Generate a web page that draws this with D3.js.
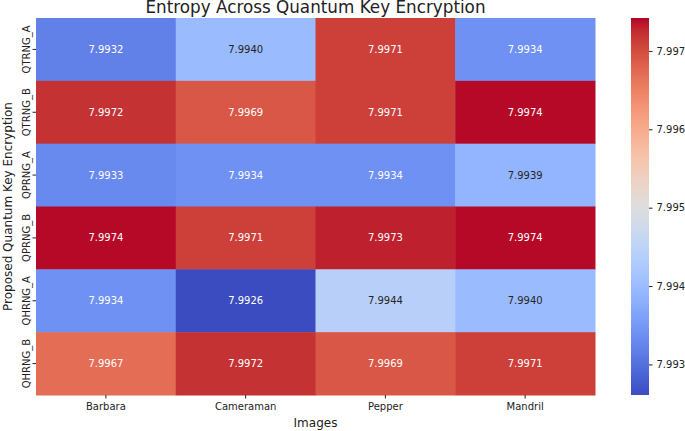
<!DOCTYPE html>
<html>
<head>
<meta charset="utf-8">
<script src="https://cdn.jsdelivr.net/npm/d3@7"></script>
<style>
  body { margin: 0; background: #fff; }
  text { font-family: "DejaVu Sans", sans-serif; }
</style>
</head>
<body>
<div id="chart"></div>
<script>
// data
var images = ["Barbara", "Cameraman", "Pepper", "Mandril"];
var methods = ["QTRNG_A", "QTRNG_B", "QPRNG_A", "QPRNG_B", "QHRNG_A", "QHRNG_B"];
var QTRNG_A = [7.9932, 7.9940, 7.9971, 7.9934];
var QTRNG_B = [7.9972, 7.9969, 7.9971, 7.9974];
var QPRNG_A = [7.9933, 7.9934, 7.9934, 7.9939];
var QPRNG_B = [7.9974, 7.9971, 7.9973, 7.9974];
var QHRNG_A = [7.9934, 7.9926, 7.9944, 7.9940];
var QHRNG_B = [7.9967, 7.9972, 7.9969, 7.9971];
var rowsData = [QTRNG_A, QTRNG_B, QPRNG_A, QPRNG_B, QHRNG_A, QHRNG_B];
var colorTicks = [7.993, 7.994, 7.995, 7.996, 7.997];
var colorRange = [7.99261, 7.99742];

// matplotlib coolwarm stops
var coolwarm = [
  [59,76,192],[68,90,204],[77,104,215],[87,117,225],[98,130,234],[108,142,241],
  [119,154,247],[130,165,251],[141,176,254],[152,185,255],[163,194,255],[174,201,253],
  [184,208,249],[194,213,244],[204,217,238],[213,219,230],[221,221,221],[229,216,209],
  [236,211,197],[241,204,185],[245,196,173],[247,187,160],[247,177,148],[247,166,135],
  [244,154,123],[241,141,111],[236,127,99],[229,112,88],[222,96,77],[213,80,66],
  [203,62,56],[192,40,47],[180,4,38]
].map(c => d3.rgb(c[0], c[1], c[2]).toString());

var cells = [];
rowsData.forEach(function(vals, r) {
  vals.forEach(function(v, c) {
    cells.push({ method: methods[r], image: images[c], value: v });
  });
});

var width = 685, height = 431;
var mLeft = 36, mTop = 18, mRight = 595, mBottom = 395;

var svg = d3.select("#chart").append("svg")
  .attr("width", width)
  .attr("height", height);

var x = d3.scaleBand().domain(images).range([mLeft, mRight]);
var y = d3.scaleBand().domain(methods).range([mTop, mBottom]);

var norm = d3.scaleLinear().domain(colorRange).range([0, 1]).clamp(true);
var cmap = d3.piecewise(d3.interpolateRgb, coolwarm);
var color = v => cmap(norm(v));

// seaborn picks text colour from relative luminance
function luminance(c) {
  var rgb = d3.rgb(c);
  var lin = [rgb.r, rgb.g, rgb.b].map(function(u) {
    u /= 255;
    return u <= 0.03928 ? u / 12.92 : Math.pow((u + 0.055) / 1.055, 2.4);
  });
  return 0.2126 * lin[0] + 0.7152 * lin[1] + 0.0722 * lin[2];
}

// cells
svg.selectAll("rect.cell")
  .data(cells)
  .enter().append("rect")
  .attr("class", "cell")
  .attr("x", d => x(d.image))
  .attr("y", d => y(d.method))
  .attr("width", x.bandwidth() + 0.5)
  .attr("height", y.bandwidth() + 0.5)
  .attr("fill", d => color(d.value));

svg.selectAll("text.annot")
  .data(cells)
  .enter().append("text")
  .attr("class", "annot")
  .attr("x", d => x(d.image) + x.bandwidth() / 2)
  .attr("y", d => y(d.method) + y.bandwidth() / 2)
  .attr("dy", "0.35em")
  .attr("text-anchor", "middle")
  .style("font-size", "10px")
  .attr("fill", d => luminance(color(d.value)) > 0.408 ? "#262626" : "#ffffff")
  .text(d => d.value.toFixed(4));

// x axis
var xAxis = svg.append("g")
  .attr("transform", "translate(0," + mBottom + ")")
  .call(d3.axisBottom(x).tickSize(3.5).tickPadding(4));
xAxis.select(".domain").remove();
xAxis.selectAll("text").style("font-size", "10px").style("font-family", "DejaVu Sans").attr("fill", "#222");
xAxis.selectAll("line").attr("stroke", "#222");

// y axis
var yAxis = svg.append("g")
  .attr("transform", "translate(" + mLeft + ",0)")
  .call(d3.axisLeft(y).tickSize(3.5));
yAxis.select(".domain").remove();
yAxis.selectAll("line").attr("stroke", "#222");
yAxis.selectAll("text")
  .style("font-size", "10px")
  .style("font-family", "DejaVu Sans")
  .attr("fill", "#222")
  .attr("x", null).attr("dy", null)
  .attr("text-anchor", "middle")
  .attr("transform", "translate(-6,0) rotate(-90)");

// title and axis labels
svg.append("text")
  .attr("x", (mLeft + mRight) / 2)
  .attr("y", 13)
  .attr("text-anchor", "middle")
  .style("font-size", "16.8px")
  .attr("fill", "#222")
  .text("Entropy Across Quantum Key Encryption");

svg.append("text")
  .attr("x", (mLeft + mRight) / 2)
  .attr("y", 426.5)
  .attr("text-anchor", "middle")
  .style("font-size", "12px")
  .attr("fill", "#222")
  .text("Images");

svg.append("text")
  .attr("transform", "rotate(-90)")
  .attr("x", -(mTop + mBottom) / 2)
  .attr("y", 12)
  .attr("text-anchor", "middle")
  .style("font-size", "12px")
  .attr("fill", "#222")
  .text("Proposed Quantum Key Encryption");

// colorbar
var cbLeft = 631, cbWidth = 18;
var cbScale = d3.scaleLinear().domain(colorRange).range([mBottom, mTop]);
var defs = svg.append("defs");
var grad = defs.append("linearGradient")
  .attr("id", "cbgrad")
  .attr("x1", 0).attr("y1", 1).attr("x2", 0).attr("y2", 0);
grad.selectAll("stop")
  .data(d3.range(0, 1.0001, 1 / 64))
  .enter().append("stop")
  .attr("offset", d => d)
  .attr("stop-color", d => cmap(d));

svg.append("rect")
  .attr("x", cbLeft)
  .attr("y", mTop)
  .attr("width", cbWidth)
  .attr("height", mBottom - mTop)
  .attr("fill", "url(#cbgrad)");

var cbAxis = svg.append("g")
  .attr("transform", "translate(" + (cbLeft + cbWidth) + ",0)")
  .call(d3.axisRight(cbScale).tickValues(colorTicks).tickFormat(d3.format(".3f")).tickSize(3.5).tickPadding(4));
cbAxis.select(".domain").remove();
cbAxis.selectAll("line").attr("stroke", "#222");
cbAxis.selectAll("text").style("font-size", "10px").style("font-family", "DejaVu Sans").attr("fill", "#222");
</script>
</body>
</html>
